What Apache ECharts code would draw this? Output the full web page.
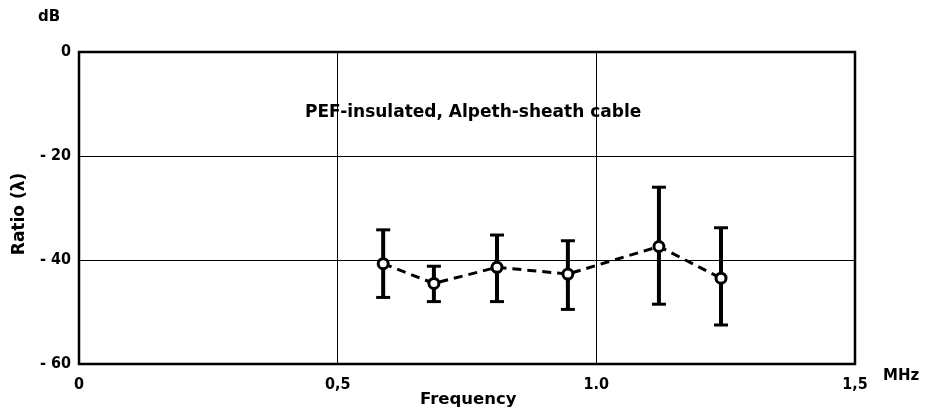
<!DOCTYPE html>
<html>
<head>
<meta charset="utf-8">
<script src="https://cdn.jsdelivr.net/npm/echarts@6/dist/echarts.min.js"></script>
<style>
  html, body { margin: 0; padding: 0; background: #fff; }
  #main { width: 927px; height: 416px; }
</style>
</head>
<body>
<div id="main"></div>
<script>
// values
const freq = [0.588, 0.686, 0.808, 0.945, 1.121, 1.241];
const ratio = [-40.7, -44.5, -41.4, -42.7, -37.4, -43.5];
const errHigh = [-34.2, -41.2, -35.2, -36.3, -26.0, -33.8];
const errLow = [-47.2, -48.0, -48.0, -49.5, -48.5, -52.5];
const xTickValues = [0, 0.5, 1.0, 1.5];
const xTickLabels = ['0', '0,5', '1.0', '1,5'];
const yTickLabels = { '0': '0', '-20': '- 20', '-40': '- 40', '-60': '- 60' };

const narrow = "'Liberation Sans Narrow', 'DejaVu Sans Condensed', sans-serif";
const wide = "'DejaVu Sans', sans-serif";

let myChart = echarts.init(document.getElementById('main'));

const barData = freq.map((f, i) => [f, errHigh[i], errLow[i]]);

let options = {
    animation: false,
    backgroundColor: '#fff',
    grid: { left: 79, right: 72, top: 52, bottom: 52 },
    xAxis: {
        type: 'value',
        min: 0, max: 1.5, interval: 0.5,
        axisLine: { show: false },
        axisTick: { show: false },
        splitLine: { lineStyle: { color: '#000', width: 1 } },
        axisLabel: {
            color: '#000', fontFamily: narrow, fontSize: 16, fontWeight: 'bold', margin: 13,
            formatter: v => {
                const i = xTickValues.findIndex(t => Math.abs(t - v) < 1e-6);
                return i >= 0 ? xTickLabels[i] : '';
            }
        }
    },
    yAxis: {
        type: 'value',
        min: -60, max: 0, interval: 20,
        axisLine: { show: false },
        axisTick: { show: false },
        splitLine: { lineStyle: { color: '#000', width: 1 } },
        axisLabel: {
            color: '#000', fontFamily: narrow, fontSize: 16, fontWeight: 'bold', margin: 8,
            formatter: v => yTickLabels[String(v)] || ''
        }
    },
    graphic: [
        { type: 'rect', shape: { x: 79, y: 52, width: 776, height: 312 },
          style: { fill: 'none', stroke: '#000', lineWidth: 2.5 }, z: 10 },
        { type: 'text', left: 38, top: 10,
          style: { text: 'dB', fill: '#000', font: 'bold 15px ' + wide } },
        { type: 'text', left: 883, top: 369,
          style: { text: 'MHz', fill: '#000', font: 'bold 15px ' + wide } },
        { type: 'text', left: 420, top: 391,
          style: { text: 'Frequency', fill: '#000', font: 'bold 16.5px ' + wide } },
        { type: 'text', x: 20, y: 214, rotation: Math.PI / 2,
          style: { text: 'Ratio (\u03bb)', fill: '#000', font: 'bold 17px ' + wide,
                   align: 'center', verticalAlign: 'middle' } },
        { type: 'text', left: 305, top: 104,
          style: { text: 'PEF-insulated, Alpeth-sheath cable', fill: '#000', font: 'bold 17px ' + wide } }
    ],
    series: [
        {
            type: 'custom',
            data: barData,
            z: 3,
            renderItem: (params, api) => {
                const top = api.coord([api.value(0), api.value(1)]);
                const bot = api.coord([api.value(0), api.value(2)]);
                const cap = 7;
                return {
                    type: 'group',
                    children: [
                        { type: 'line', shape: { x1: top[0], y1: top[1], x2: bot[0], y2: bot[1] }, style: { stroke: '#000', lineWidth: 4 } },
                        { type: 'line', shape: { x1: top[0] - cap, y1: top[1], x2: top[0] + cap, y2: top[1] }, style: { stroke: '#000', lineWidth: 3 } },
                        { type: 'line', shape: { x1: bot[0] - cap, y1: bot[1], x2: bot[0] + cap, y2: bot[1] }, style: { stroke: '#000', lineWidth: 3 } }
                    ]
                };
            }
        },
        {
            type: 'line',
            data: freq.map((f, i) => [f, ratio[i]]),
            z: 5,
            symbol: 'circle',
            symbolSize: 10,
            lineStyle: { color: '#000', width: 3, type: [9, 6] },
            itemStyle: { color: '#fff', borderColor: '#000', borderWidth: 3 }
        }
    ]
};

myChart.setOption(options);
</script>
</body>
</html>
